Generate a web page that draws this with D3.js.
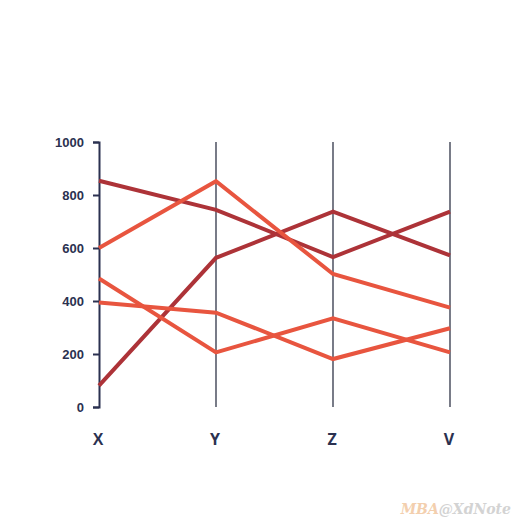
<!DOCTYPE html>
<html>
<head>
<meta charset="utf-8">
<script src="https://cdn.jsdelivr.net/npm/d3@7"></script>
<style>
  body { margin: 0; background: #fff; }
  svg { display: block; font-family: "Open Sans", "DejaVu Sans", sans-serif; }
</style>
</head>
<body>
<script>
// dimensions shown on the parallel axes
var dimensions = ["X", "Y", "Z", "V"];
var yTicks = [0, 200, 400, 600, 800, 1000];

// one polyline per row, values in dimension order
var rowA = [854, 744, 566, 737];
var rowB = [81, 563, 737, 572];
var rowC = [600, 852, 502, 375];
var rowD = [485, 206, 335, 206];
var rowE = [394, 356, 181, 297];
var rowGroup = ["dark", "dark", "light", "light", "light"];

var rows = [rowA, rowB, rowC, rowD, rowE];

var width = 532, height = 532;
var margin = {top: 142, right: 82, bottom: 125, left: 99};

var colour = d3.scaleOrdinal().domain(["dark", "light"]).range(["#ad3338", "#e8553f"]);

var svg = d3.select("body").append("svg")
    .attr("width", width)
    .attr("height", height);

var g = svg.append("g")
    .attr("transform", "translate(" + margin.left + "," + margin.top + ")");

var innerW = width - margin.left - margin.right,
    innerH = height - margin.top - margin.bottom;

var x = d3.scalePoint().domain(dimensions).range([0, innerW]);
var y = d3.scaleLinear().domain([0, 1000]).range([innerH, 0]);

// axes
dimensions.forEach(function(dim, i) {
    var ax = g.append("g").attr("transform", "translate(" + x(dim) + ",0)");
    if (i === 0) {
        ax.call(d3.axisLeft(y).tickValues(yTicks).tickFormat(d3.format("d")).tickSize(6).tickPadding(9));
        ax.select(".domain").attr("stroke", "#2b3150").attr("stroke-width", 2);
        ax.selectAll(".tick line").attr("stroke", "#2b3150").attr("stroke-width", 2);
        ax.selectAll(".tick text")
            .attr("fill", "#2b3150")
            .style("font-size", "13px")
            .style("font-weight", "bold");
    } else {
        ax.append("line")
            .attr("y1", y(0)).attr("y2", y(1000))
            .attr("stroke", "#1f2438")
            .attr("stroke-width", 1.2);
    }
    ax.append("text")
        .attr("x", -1)
        .attr("y", innerH + 38)
        .attr("text-anchor", "middle")
        .attr("fill", "#2b3150")
        .style("font-size", "16px")
        .style("font-weight", "bold")
        .text(dim);
});

// lines
var line = d3.line()
    .x(function(d, i) { return x(dimensions[i]); })
    .y(function(d) { return y(d); });

g.selectAll(".row").data(rows).enter()
    .append("path")
    .attr("class", "row")
    .attr("d", line)
    .attr("fill", "none")
    .attr("stroke", function(d, i) { return colour(rowGroup[i]); })
    .attr("stroke-width", 4)
    .attr("stroke-linejoin", "miter");

// watermark
var wm = svg.append("text")
    .attr("x", 511)
    .attr("y", 514)
    .attr("text-anchor", "end")
    .style("font-family", "'DejaVu Serif', 'Liberation Serif', serif")
    .style("font-style", "italic")
    .style("font-weight", "bold")
    .style("font-size", "14px");
wm.append("tspan").attr("fill", "#f3cfae").text("MBA");
wm.append("tspan").attr("fill", "#d3d3d3").text("@XdNote");
</script>
</body>
</html>
